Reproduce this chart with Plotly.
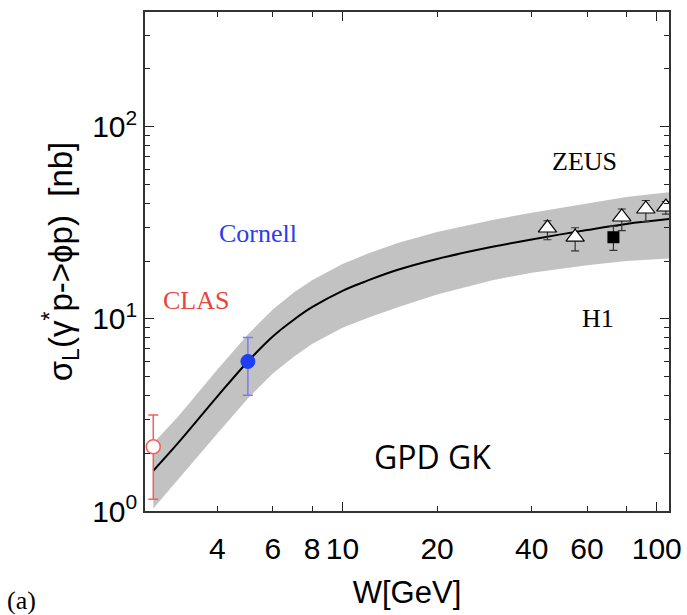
import plotly.graph_objects as go

# --- model curve (GPD GK) ---
W_curve = [2.5, 3, 4, 5, 6, 7, 8, 10, 12, 15, 20, 30, 40, 60, 80, 110]
sig_curve = [1.62, 2.26, 3.95, 6.0, 8.1, 9.9, 11.5, 14.0, 15.8, 18.0, 20.5, 23.7, 25.9, 29.0, 31.2, 33.1]
sig_upper = [2.25, 3.1, 5.45, 8.3, 11.2, 13.7, 15.9, 19.3, 21.8, 24.8, 28.3, 32.7, 35.7, 40.0, 43.1, 45.6]
sig_lower = [1.03, 1.45, 2.53, 3.85, 5.2, 6.35, 7.4, 9.0, 10.1, 11.5, 13.4, 15.9, 17.4, 19.0, 20.0, 20.6]

# --- data ---
clas_W = [2.5]; clas_s = [2.16]; clas_hi = [3.16]; clas_lo = [1.15]
corn_W = [5.0]; corn_s = [6.0]; corn_hi = [8.0]; corn_lo = [4.0]
zeus_W = [44.9, 55.0, 77.4, 92.3, 106.9]
zeus_s = [29.7, 26.6, 33.9, 37.3, 38.2]
zeus_hi = [32.4, 29.8, 37.3, 41.3, 40.8]
zeus_lo = [25.8, 22.6, 28.8, 32.1, 35.1]
h1_W = [72.8]; h1_s = [26.6]; h1_hi = [30.3]; h1_lo = [22.7]

x_tickvals = [4, 6, 8, 10, 20, 40, 60, 100]
x_ticktext = ["4", "6", "8", "10", "20", "40", "60", "100"]
y_tickvals = [1, 10, 100]
y_ticktext = ["10<sup>0</sup>", "10<sup>1</sup>", "10<sup>2</sup>"]

def errs(s, hi, lo):
    return [h - v for h, v in zip(hi, s)], [v - l for l, v in zip(lo, s)]

fig = go.Figure()
fig.add_trace(go.Scatter(x=W_curve + W_curve[::-1], y=sig_upper + sig_lower[::-1],
                         fill='toself', fillcolor='#c2c2c2', line=dict(width=0),
                         mode='lines', hoverinfo='skip'))
fig.add_trace(go.Scatter(x=W_curve, y=sig_curve, mode='lines',
                         line=dict(color='black', width=2, shape='spline')))

ep, em = errs(clas_s, clas_hi, clas_lo)
fig.add_trace(go.Scatter(x=clas_W, y=clas_s, mode='markers',
                         marker=dict(symbol='circle', size=14, color='white',
                                     line=dict(color='#f0605a', width=1.5)),
                         error_y=dict(type='data', array=ep, arrayminus=em,
                                      color='#f0605a', thickness=1.5, width=5)))
ep, em = errs(corn_s, corn_hi, corn_lo)
fig.add_trace(go.Scatter(x=corn_W, y=corn_s, mode='markers',
                         marker=dict(symbol='circle', size=14, color='#1f3ff5',
                                     line=dict(color='#1f3ff5', width=1)),
                         error_y=dict(type='data', array=ep, arrayminus=em,
                                      color='#7a7af5', thickness=1.5, width=5)))
ep, em = errs(zeus_s, zeus_hi, zeus_lo)
fig.add_trace(go.Scatter(x=zeus_W, y=zeus_s, mode='markers',
                         marker=dict(symbol='triangle-up', size=16, color='white',
                                     line=dict(color='black', width=1.2)),
                         error_y=dict(type='data', array=ep, arrayminus=em,
                                      color='#333333', thickness=1.2, width=4)))
ep, em = errs(h1_s, h1_hi, h1_lo)
fig.add_trace(go.Scatter(x=h1_W, y=h1_s, mode='markers',
                         marker=dict(symbol='square', size=12, color='black'),
                         error_y=dict(type='data', array=ep, arrayminus=em,
                                      color='#333333', thickness=1.2, width=4)))
# helper trace to anchor the long-tick overlay axis
fig.add_trace(go.Scatter(x=[10], y=[10], xaxis='x2', mode='markers',
                         marker=dict(opacity=0), hoverinfo='skip'))

xr = [0.3716, 2.039]
sans = 'Liberation Sans, Arial, sans-serif'
tickfont = dict(family=sans, size=30, color='black')
fig.update_layout(
    width=687, height=615,
    margin=dict(l=145, r=18, t=12, b=104),
    paper_bgcolor='white', plot_bgcolor='white',
    showlegend=False,
    xaxis=dict(type='log', range=xr, tickmode='array', tickvals=x_tickvals, ticktext=x_ticktext,
               ticks='inside', ticklen=5, tickwidth=1.2, tickcolor='#222', tickangle=0,
               showline=True, linecolor='#333', linewidth=1.5, mirror='ticks',
               showgrid=False, zeroline=False, tickfont=tickfont, ticklabelstandoff=10,
               automargin=False,
               minor=dict(tickmode='array', tickvals=[80], ticks='inside', ticklen=5,
                          tickwidth=1.2, tickcolor='#222', showgrid=False),
               title=dict(text='W[GeV]', font=dict(family=sans, size=31, color='black'), standoff=18)),
    xaxis2=dict(type='log', range=xr, overlaying='x', anchor='y', side='bottom',
                tickmode='array', tickvals=[10, 100], ticks='inside', ticklen=9,
                tickwidth=1.4, tickcolor='#222', showticklabels=False, mirror='ticks',
                showline=False, showgrid=False, zeroline=False, automargin=False),
    yaxis=dict(type='log', range=[0, 2.597], tickmode='array', tickvals=y_tickvals, ticktext=y_ticktext,
               ticks='inside', ticklen=9, tickwidth=1.2, tickcolor='#222',
               showline=True, linecolor='#333', linewidth=1.5, mirror='ticks',
               showgrid=False, zeroline=False, tickfont=tickfont, automargin=False,
               minor=dict(dtick='D1', ticks='inside', ticklen=5, tickwidth=1.2,
                          tickcolor='#222', showgrid=False),
               title=dict(text='σ<sub>L</sub>(γ<sup>*</sup>p-&gt;ϕp)  [nb]',
                          font=dict(family=sans, size=33, color='black'),
                          standoff=10)),
)

serif = 'Liberation Serif, Times New Roman, serif'
def lab(text, xpx, ypx, color, size, family=serif):
    fig.add_annotation(text=text, xref='paper', yref='paper',
                       x=(xpx - 145) / (669 - 145), y=(511 - ypx) / (511 - 12),
                       showarrow=False, xanchor='center', yanchor='middle',
                       font=dict(family=family, size=size, color=color))

lab('ZEUS', 584, 162, 'black', 26)
lab('Cornell', 258, 233, '#2a3cf0', 26)
lab('CLAS', 196, 300, '#e8453c', 26)
lab('H1', 598, 318, 'black', 26)
lab('GPD GK', 432, 456, 'black', 32, family='Open Sans, Noto Sans, sans-serif')
lab('(a)', 21, 600, 'black', 26)

fig.write_html('out.html')
